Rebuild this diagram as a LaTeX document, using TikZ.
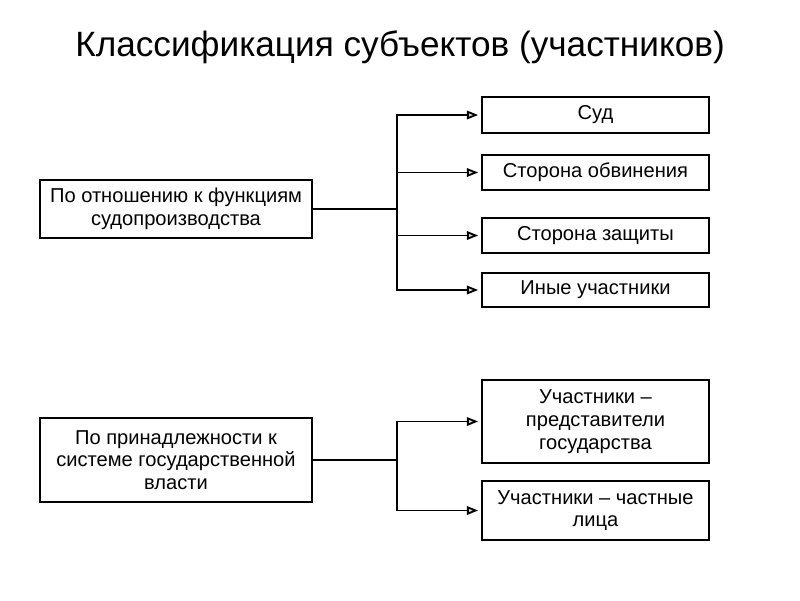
\documentclass[tikz,border=0pt]{standalone}
\usepackage{fontspec}
\setmainfont{Liberation Sans}
\usetikzlibrary{arrows.meta}
\tikzset{
  box/.style={draw, line width=1.4pt, align=center, inner sep=0pt, font=\fontsize{14.3}{16.2}\selectfont},
  link/.style={line width=1.3pt, -{Triangle[length=8pt, width=6pt, fill=gray!30]}, shorten >=2pt}
}
\begin{document}
\begin{tikzpicture}[x=0.025cm, y=-0.025cm]
    \useasboundingbox (0, 0) rectangle (800, 600); % bounding box fix
    \node (title) at (400, 47) {\fontsize{25}{30}\selectfont Классификация субъектов (участников)};
    % left side
    \node[box, minimum width=6.8cm, minimum height=1.45cm] (func) at (176, 209) {По отношению к функциям\\судопроизводства};
    \node[box, minimum width=6.8cm, minimum height=2.1cm] (vlast) at (176, 460) {По принадлежности к\\системе государственной\\власти};
    % right side
    \node[box, minimum width=5.675cm, minimum height=0.9cm] (sud) at (595.5, 115) {Суд};
    \node[box, minimum width=5.675cm, minimum height=0.875cm] (obv) at (595.5, 172.5) {Сторона обвинения};
    \node[box, minimum width=5.675cm, minimum height=0.875cm] (zasch) at (595.5, 235.5) {Сторона защиты};
    \node[box, minimum width=5.675cm, minimum height=0.85cm] (inye) at (595.5, 290) {Иные участники};
    \node[box, minimum width=5.675cm, minimum height=2.075cm] (gos) at (595.5, 421.5) {Участники --\\представители\\государства};
    \node[box, minimum width=5.675cm, minimum height=1.475cm] (chast) at (595.5, 510.5) {Участники -- частные\\лица};
    % connectors
    \coordinate (j1) at (397, 209);
    \coordinate (j2) at (397, 460);
    \draw[line width=1.3pt] (func.east) -- (j1);
    \foreach \t in {sud, obv, zasch, inye}
        \draw[link] (j1) |- (\t.west);
    \draw[line width=1.3pt] (vlast.east) -- (j2);
    \foreach \t in {gos, chast}
        \draw[link] (j2) |- (\t.west);
\end{tikzpicture}
\end{document}
